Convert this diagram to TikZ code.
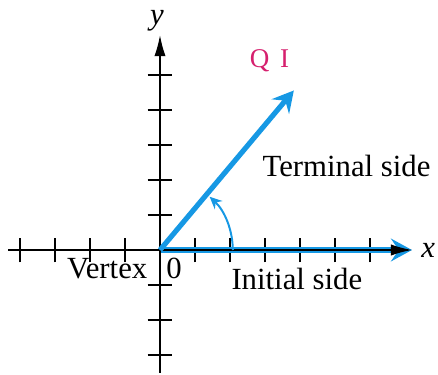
\documentclass[tikz,border=0pt]{standalone}
\usepackage{fontspec}
\setmainfont{Liberation Serif}
\usepackage{xcolor}
\usetikzlibrary{arrows.meta}
\definecolor{sideblue}{RGB}{22,152,228}
\definecolor{quadpink}{RGB}{214,32,110}

\begin{document}
\begin{tikzpicture}[x=1cm,y=1cm,lbl/.style={font=\fontsize{25}{30}\selectfont,inner sep=0pt,anchor=base},axis/.style={line width=1.2pt,-{Latex[length=6mm,width=3.2mm]}},axtick/.style={line width=1.2pt},side/.style={sideblue,line width=4.2pt,-{Stealth[length=6mm,width=6.5mm,inset=2.2mm]}},turn/.style={sideblue,line width=1.6pt,-{Stealth[length=3.5mm,width=3.2mm]}}]
\useasboundingbox (-4.571,-3.571) rectangle (7.943,7.143);
\coordinate (O) at (0,0);
\coordinate (xl) at (-4.34,0);
\coordinate (xr) at (7.2,0);
\coordinate (yb) at (0,-3.5);
\coordinate (yt) at (0,6.14);
\coordinate (T) at (50:5.95);
% ticks on both axes
\foreach \i in {-4,...,-1,1,2,...,6} \draw[axtick] (\i,-0.35) -- (\i,0.35);
\foreach \j in {-3,...,-1,1,2,...,5} \draw[axtick] (-0.35,\j) -- (0.35,\j);
\draw[side] (O) -- (xr);
\draw[axis] (xl) -- (xr);
\draw[axis] (yb) -- (yt);
\draw[side] (O) -- (T);
\draw[turn] (2.08,0) arc[start angle=0,end angle=47,radius=2.08];
\node[lbl] (ylab) at (-0.09,6.45) {\textit{y}};
\node[lbl] (xlab) at (7.66,-0.2) {\textit{x}};
\node[lbl] (term) at (5.33,2.09) {Terminal side};
\node[lbl] (init) at (3.91,-1.14) {Initial side};
\node[lbl] (vert) at (-1.51,-0.8) {Vertex};
\node[lbl] (zero) at (0.4,-0.8) {0};
\node[lbl,font=\fontsize{22}{26}\selectfont,text=quadpink] (quad) at (3.13,5.2) {Q\hspace{.4em}I};
\end{tikzpicture}
\end{document}
